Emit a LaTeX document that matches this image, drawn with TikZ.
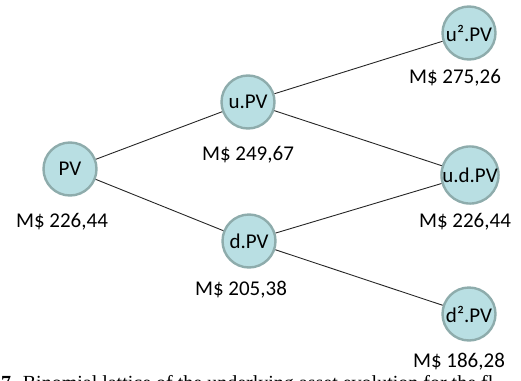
\documentclass[tikz,border=0pt]{standalone}
\usepackage{fontspec}
\setmainfont{Carlito}
\newfontfamily\captionfont{Liberation Serif}
\begin{document}
\begin{tikzpicture}[x=1pt,y=-1pt,
  lattice/.style={circle, draw=nodeedge, line width=2.4pt, fill=nodefill,
    minimum size=53pt, inner sep=0pt, font=\fontsize{21}{24}\selectfont},
  price/.style={font=\fontsize{21}{24}\selectfont, inner sep=0pt},
  branch/.style={draw=black!85, line width=0.9pt}]
\definecolor{nodefill}{HTML}{B9DFE3}
\definecolor{nodeedge}{HTML}{8EACAC}
\useasboundingbox (0,0) rectangle (521,380);
\clip (0,0) rectangle (521,380);

% lattice nodes
\node[lattice] (pv)  at (70,169)  {PV};
\node[lattice] (u)   at (248,102) {u.PV};
\node[lattice] (d)   at (249,241) {d.PV};
\node[lattice] (uu)  at (469,33)  {u².PV};
\node[lattice] (ud)  at (470,175) {u.d.PV};
\node[lattice] (dd)  at (469,314) {d².PV};

% branches, drawn between node borders
\draw[branch] (pv) -- (u);
\draw[branch] (pv) -- (d);
\draw[branch] (u) -- (uu);
\draw[branch] (u) -- (ud);
\draw[branch] (d) -- (ud);
\draw[branch] (d) -- (dd);

% values
\node[price] (vpv) at (62,222)  {M\$ 226,44};
\node[price] (vu)  at (248,155) {M\$ 249,67};
\node[price] (vd)  at (241,290) {M\$ 205,38};
\node[price] (vuu) at (455,78)  {M\$ 275,26};
\node[price] (vud) at (465,222) {M\$ 226,44};
\node[price] (vdd) at (459,362) {M\$ 186,28};

% caption line, running off the lower edge
\node[anchor=base west, inner sep=0pt, font=\captionfont\fontsize{20}{22}\selectfont]
  (cap) at (1,389) {\textbf{7.} Binomial lattice of the underlying asset evolution for the fl};
\end{tikzpicture}
\end{document}
